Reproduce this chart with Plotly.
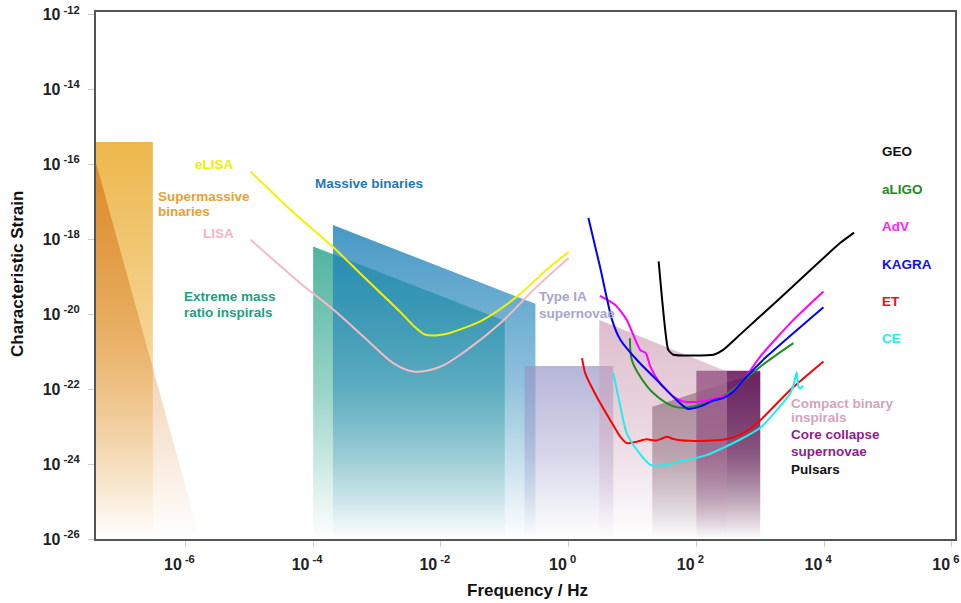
import plotly.graph_objects as go

FONT = "Liberation Sans, Arial, Helvetica, sans-serif"

# ---------------- data (log10 frequency [Hz], log10 characteristic strain) ----------------
BOTTOM = -26.0

# source regions: left/right log f, top-left/top-right log h
SMB_BOX_F = [-7.40, -6.51];  SMB_BOX_TOP = [-15.40, -15.40]
SMB_TRI_F = [-7.40, -5.77];  SMB_TRI_TOP = [-15.95, -26.0]
EMRI_F = [-4.00, -1.00];     EMRI_TOP = [-18.19, -20.17]
MB_F = [-3.69, -0.52];       MB_TOP = [-17.62, -19.72]
SN1A_F = [-0.69, 0.70];      SN1A_TOP = [-21.38, -21.38]
PSR_F = [1.31, 3.00];        PSR_TOP = [-22.47, -21.54]
CCSN_F = [2.00, 3.00];       CCSN_TOP = [-21.51, -21.51]
CBC_F = [0.48, 2.48];        CBC_TOP = [-20.15, -21.53]

# detector sensitivity curves
ELISA_F = [-4.98, -4.36, -3.68, -3.16, -2.64, -2.45, -2.25, -2.05, -1.86, -1.34, -0.81, -0.29, 0.0]
ELISA_H = [-16.19, -17.20, -18.22, -19.08, -19.93, -20.27, -20.54, -20.56, -20.50, -20.15, -19.53, -18.73, -18.34]
LISA_F = [-4.98, -4.20, -3.68, -3.16, -2.74, -2.43, -2.01, -1.59, -1.07, -0.55, 0.0]
LISA_H = [-18.01, -19.17, -19.88, -20.68, -21.31, -21.53, -21.40, -20.95, -20.24, -19.35, -18.50]
GEO_F = [1.41, 1.48, 1.56, 1.64, 1.95, 2.27, 2.42, 2.68, 3.31, 4.25, 4.47]
GEO_H = [-18.59, -19.88, -20.95, -21.08, -21.10, -21.08, -20.95, -20.55, -19.57, -18.10, -17.82]
ALIGO_F = [0.96, 0.99, 1.12, 1.33, 1.64, 1.85, 2.11, 2.37, 2.63, 3.00, 3.52]
ALIGO_H = [-20.64, -21.22, -21.66, -22.11, -22.46, -22.49, -22.39, -22.24, -21.93, -21.40, -20.77]
ADV_F = [0.49, 0.73, 0.91, 1.12, 1.21, 1.28, 1.43, 1.64, 1.80, 2.06, 2.32, 2.53, 2.74, 3.00, 3.52, 3.99]
ADV_H = [-19.51, -19.75, -20.15, -20.95, -21.04, -21.40, -21.84, -22.20, -22.33, -22.33, -22.24, -22.11, -21.75, -21.13, -20.15, -19.39]
KAGRA_F = [0.31, 0.49, 0.68, 0.81, 1.07, 1.43, 1.69, 1.87, 2.06, 2.27, 2.42, 2.58, 2.79, 3.10, 3.99]
KAGRA_H = [-17.43, -18.72, -20.15, -20.68, -21.22, -21.84, -22.29, -22.53, -22.46, -22.30, -22.24, -22.06, -21.66, -21.13, -19.81]
ET_F = [0.21, 0.26, 0.44, 0.65, 0.81, 0.91, 1.07, 1.22, 1.38, 1.54, 1.64, 1.90, 2.42, 2.68, 2.95, 3.47, 3.99]
ET_H = [-21.17, -21.57, -22.20, -22.82, -23.27, -23.44, -23.40, -23.34, -23.37, -23.27, -23.33, -23.38, -23.35, -23.22, -22.91, -22.02, -21.26]
CE_F = [0.70, 0.81, 0.91, 1.07, 1.28, 1.54, 1.74, 2.16, 2.68, 3.00, 3.31, 3.47, 3.53, 3.57, 3.60, 3.63, 3.67]
CE_H = [-21.57, -22.46, -23.18, -23.62, -24.02, -24.02, -23.93, -23.76, -23.35, -23.03, -22.46, -22.11, -21.84, -21.55, -21.93, -21.99, -21.90]

X_TICKS = [-6, -4, -2, 0, 2, 4, 6]
Y_TICKS = [-12, -14, -16, -18, -20, -22, -24, -26]

# ---------------- figure ----------------
fig = go.Figure()


def region(fs, tops, rgb, a_top, a_mid=None):
    L, R = fs
    xs = [L, L, R, R, L]
    ys = [BOTTOM, tops[0], tops[1], BOTTOM, BOTTOM]
    r, g, b = rgb
    if a_mid is None:
        a_mid = a_top * 0.55
    cs = [[0, f"rgba({r},{g},{b},0)"], [0.5, f"rgba({r},{g},{b},{a_mid})"],
          [1, f"rgba({r},{g},{b},{a_top})"]]
    fig.add_trace(go.Scatter(
        x=[10 ** v for v in xs], y=[10 ** v for v in ys],
        mode="lines", line=dict(width=0), fill="toself",
        fillgradient=dict(type="vertical", colorscale=cs),
        hoverinfo="skip", showlegend=False))


region(SMB_BOX_F, SMB_BOX_TOP, (237, 183, 76), 1.0, 0.6)
region(SMB_TRI_F, SMB_TRI_TOP, (214, 118, 28), 0.7, 0.35)
region(EMRI_F, EMRI_TOP, (55, 170, 145), 0.88, 0.5)
region(MB_F, MB_TOP, (30, 130, 185), 0.82, 0.5)
region(SN1A_F, SN1A_TOP, (150, 150, 200), 0.7, 0.4)
region(PSR_F, PSR_TOP, (118, 96, 105), 0.88, 0.55)
region(CCSN_F, CCSN_TOP, (105, 25, 95), 0.9, 0.55)
region(CBC_F, CBC_TOP, (205, 155, 180), 0.66, 0.4)


def curve(fs, hs, color, smoothing=1.0):
    fig.add_trace(go.Scatter(
        x=[10 ** v for v in fs], y=[10 ** v for v in hs], mode="lines",
        line=dict(color=color, width=2, shape="spline", smoothing=smoothing),
        hoverinfo="skip", showlegend=False))


curve(LISA_F, LISA_H, "#F4BAC6")
curve(ELISA_F, ELISA_H, "#F2F200", 0.8)
curve(GEO_F, GEO_H, "#000000", 0.5)
curve(ALIGO_F, ALIGO_H, "#1E8C1E")
curve(ADV_F, ADV_H, "#FF00FF", 0.6)
curve(KAGRA_F, KAGRA_H, "#0000FF", 0.6)
curve(ET_F, ET_H, "#FF0000", 0.6)
curve(CE_F, CE_H, "#22EEEE", 0.6)

# ---------------- labels ----------------
LABELS = [
    ("eLISA", "#EEEE00", -5.21, -15.99, "right"),
    ("LISA", "#F4B6C2", -5.21, -17.85, "right"),
    ("Supermassive", "#E8A035", -6.46, -16.85, "left"),
    ("binaries", "#E8A035", -6.46, -17.26, "left"),
    ("Extreme mass", "#1E9E82", -6.06, -19.53, "left"),
    ("ratio inspirals", "#1E9E82", -6.06, -19.95, "left"),
    ("Massive binaries", "#1F78B8", -4.01, -16.52, "left"),
    ("Type IA", "#A6A6CC", -0.49, -19.53, "left"),
    ("supernovae", "#A6A6CC", -0.49, -19.97, "left"),
    ("GEO", "#111111", 4.88, -15.65, "left"),
    ("aLIGO", "#228B22", 4.88, -16.68, "left"),
    ("AdV", "#FF22FF", 4.88, -17.66, "left"),
    ("KAGRA", "#1010EE", 4.88, -18.66, "left"),
    ("ET", "#EE1111", 4.88, -19.66, "left"),
    ("CE", "#22EEEE", 4.88, -20.66, "left"),
    ("Compact binary", "#D4A4BC", 3.45, -22.37, "left"),
    ("inspirals", "#D4A4BC", 3.45, -22.75, "left"),
    ("Core collapse", "#8E1E8C", 3.45, -23.22, "left"),
    ("supernovae", "#8E1E8C", 3.45, -23.67, "left"),
    ("Pulsars", "#111111", 3.45, -24.14, "left"),
]
for text, color, lx, ly, anchor in LABELS:
    fig.add_annotation(x=lx, y=ly, xref="x", yref="y", text=text, showarrow=False,
                       xanchor=anchor, yanchor="middle",
                       font=dict(family=FONT, size=13.5, color=color, weight="bold"))

fig.add_annotation(x=-0.0908, y=0.503, xref="paper", yref="paper", text="Characteristic Strain",
                   textangle=-90, showarrow=False, xanchor="center", yanchor="middle",
                   font=dict(family=FONT, size=17, color="#111", weight="bold"))
fig.add_annotation(x=0.502, y=-0.097, xref="paper", yref="paper", text="Frequency / Hz",
                   showarrow=False, xanchor="center", yanchor="middle",
                   font=dict(family=FONT, size=17, color="#111", weight="bold"))

axis_common = dict(showgrid=False, zeroline=False, showline=True, mirror=True,
                   linecolor="#555555", linewidth=2, ticks="outside", ticklen=6,
                   tickcolor="#cccccc", tickwidth=1, automargin=False,
                   ticklabeloverflow="allow",
                   tickfont=dict(family=FONT, size=16, color="#222", weight="bold"))

fig.update_xaxes(type="log", range=[-7.40, 6.05],
                 tickvals=[10 ** t for t in X_TICKS],
                 ticktext=[f"10<sup> {t}</sup>" for t in X_TICKS],
                 ticklabelshift=-6, ticklabelstandoff=4, **axis_common)
fig.update_yaxes(type="log", range=[-26.0, -11.93],
                 tickvals=[10 ** t for t in Y_TICKS],
                 ticktext=[f"10<sup> {t}</sup>" for t in Y_TICKS],
                 ticklabelstandoff=5, **axis_common)

fig.update_layout(width=961, height=603, margin=dict(l=96, r=6, t=12, b=64, autoexpand=False),
                  plot_bgcolor="white", paper_bgcolor="white", showlegend=False)

fig.write_html("out.html", config={"displayModeBar": False},
               post_script="document.body.style.margin='0';")
